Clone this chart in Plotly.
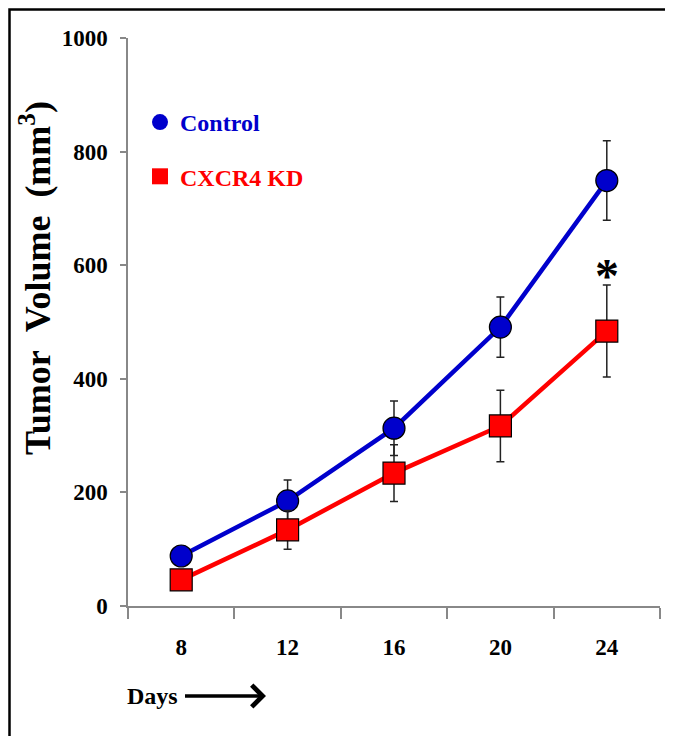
import plotly.graph_objects as go

days = ["8", "12", "16", "20", "24"]
control = [88, 185, 313, 491, 749]
control_err = [15, 37, 48, 53, 70]
kd = [46, 134, 234, 317, 484]
kd_err = [10, 34, 50, 63, 81]
y_ticks = [0, 200, 400, 600, 800, 1000]

BLUE = "#0000CC"
RED = "#FF0000"
FONT = "Liberation Serif, Times New Roman, serif"

# page offset of the figure div (browser default body margin)
OFF = 8
W, H = 673, 736
# desired plot area on screen: x 128..660, y 38..606
SX0, SX1, SY0, SY1 = 128, 660, 38, 606
L, T = SX0 - OFF, SY0 - OFF
R = W - (SX1 - OFF)
B = H - (SY1 - OFF)
pw, ph = SX1 - SX0, SY1 - SY0


def px_x(px):
    return (px - SX0) / pw


def px_y(py):
    return (SY1 - py) / ph


fig = go.Figure()

fig.add_trace(go.Scatter(
    x=days, y=control, mode="lines+markers", showlegend=False,
    line=dict(color=BLUE, width=4.5),
    marker=dict(symbol="circle", size=22, color=BLUE, line=dict(color="black", width=1.2)),
    error_y=dict(type="data", array=control_err, color="#222", thickness=1.5, width=4),
))
fig.add_trace(go.Scatter(
    x=days, y=kd, mode="lines+markers", showlegend=False,
    line=dict(color=RED, width=4.5),
    marker=dict(symbol="square", size=22, color=RED, line=dict(color="black", width=1.2)),
    error_y=dict(type="data", array=kd_err, color="#222", thickness=1.5, width=4),
))

# legend-only entries
fig.add_trace(go.Scatter(
    x=[None], y=[None], mode="markers", legendgroup="a",
    name=f"<span style='color:{BLUE}'>Control</span>",
    marker=dict(symbol="circle", size=16, color=BLUE),
))
fig.add_trace(go.Scatter(
    x=[None], y=[None], mode="markers", legendgroup="b",
    name=f"<span style='color:{RED}'>CXCR4 KD</span>",
    marker=dict(symbol="square", size=16, color=RED),
))

fig.update_layout(
    width=W, height=H,
    margin=dict(l=L, r=R, t=T, b=B),
    paper_bgcolor="white", plot_bgcolor="white",
    font=dict(family=FONT, color="black"),
    showlegend=True,
    legend=dict(
        x=px_x(140), y=px_y(100), xanchor="left", yanchor="top",
        font=dict(family=FONT, size=24, weight="bold"),
        tracegroupgap=20, bgcolor="rgba(0,0,0,0)", itemsizing="trace",
    ),
    xaxis=dict(
        type="category", range=[-0.5, 4.5], tickson="boundaries",
        ticks="outside", ticklen=11, tickcolor="#888", tickwidth=1.5,
        showline=True, linecolor="#888", linewidth=1.5,
        showgrid=False, zeroline=False,
        tickfont=dict(family=FONT, size=23, weight="bold", color="black"),
        ticklabelstandoff=20,
    ),
    yaxis=dict(
        range=[0, 1000], tickvals=y_ticks,
        ticks="outside", ticklen=6, tickcolor="#888", tickwidth=1.5,
        showline=True, linecolor="#888", linewidth=1.5,
        showgrid=False, zeroline=False,
        tickfont=dict(family=FONT, size=23, weight="bold", color="black"),
        ticklabelstandoff=8,
    ),
)

# y-axis title
fig.add_annotation(
    xref="paper", yref="paper", x=px_x(35), y=px_y(278),
    text="Tumor\u00a0\u00a0Volume\u00a0\u00a0(mm<sup>3</sup>)", textangle=-90, showarrow=False,
    font=dict(family=FONT, size=36, weight="bold", color="black"),
    xanchor="center", yanchor="middle",
)

# significance asterisk above the last CXCR4 KD point
fig.add_annotation(
    x=len(days) - 1, y=600, xref="x", yref="y", text="*", showarrow=False,
    font=dict(family=FONT, size=48, weight="bold", color="black"),
    xanchor="center", yanchor="middle", yshift=-10,
)

# Days arrow
fig.add_annotation(
    xref="paper", yref="paper", x=px_x(266), y=px_y(696),
    ax=-114, ay=0, text="Days", showarrow=True,
    arrowhead=4, arrowsize=1.2, arrowwidth=3.5, arrowcolor="black",
    startstandoff=6,
    font=dict(family=FONT, size=24, weight="bold", color="black"),
)

# outer border (left and top edges visible)
fig.add_shape(
    type="rect", xref="paper", yref="paper",
    x0=px_x(9.5), x1=px_x(700), y0=px_y(780), y1=px_y(9.5),
    line=dict(color="black", width=2.5), fillcolor="rgba(0,0,0,0)", layer="above",
)

fig.write_html("out.html")
